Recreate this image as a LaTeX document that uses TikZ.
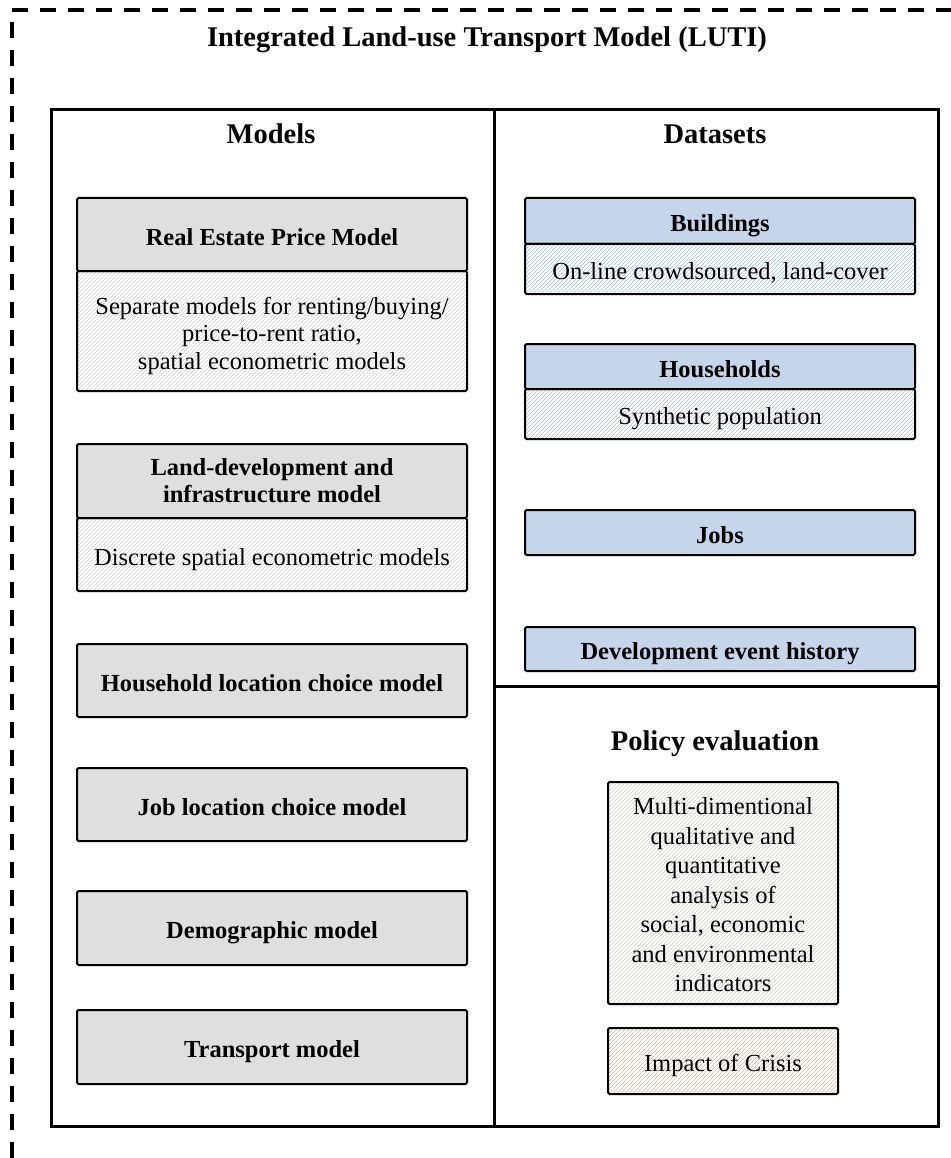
\documentclass[tikz,border=0pt]{standalone}
\usepackage{fontspec}
\setmainfont{Liberation Serif}
\definecolor{hdrgray}{HTML}{DFDFDF}
\definecolor{hdrblue}{HTML}{C5D6EA}
\definecolor{hgray}{HTML}{D0D0D0}
\definecolor{hblue}{HTML}{A8C2E4}
\definecolor{hgreen}{HTML}{C4DAA2}
\definecolor{horange}{HTML}{F7B283}
\tikzset{
  box/.style={draw=black, line width=2pt, rounded corners=1.5pt, inner sep=0pt, align=center,
    anchor=north west, font=\fontsize{24.5}{27.5}\selectfont},
  one/.style={text height=21pt, text depth=0pt},
  bhdr/.style={box, font=\bfseries\fontsize{24.5}{27}\selectfont},
  ghdr/.style={bhdr, fill=hdrgray},
  blhdr/.style={bhdr, fill=hdrblue},
  hatch/.style={box, path picture={
      \foreach \k in {0,4,...,640} {
        \draw[#1, line width=0.45pt]
          ([xshift=\k pt-240pt]path picture bounding box.south west) -- ++(240pt,240pt);
      }}},
  panel/.style={draw=black, line width=2.8pt, inner sep=0pt, anchor=north west},
  ptitle/.style={font=\bfseries\fontsize{28.5}{34}\selectfont, inner sep=0pt, anchor=base},
  outer/.style={draw=black, line width=3.5pt, dash pattern=on 16pt off 12pt}
}
\begin{document}
\begin{tikzpicture}[x=1pt,y=-1pt]
\useasboundingbox (0,0) rectangle (950,1158);
% outer dashed frame
\coordinate (otl) at (12,10);
\coordinate (otr) at (952,10);
\coordinate (oltop) at (12,22);
\coordinate (olbot) at (12,1160);
\draw[outer] (otl) -- (otr);
\draw[outer] (oltop) -- (olbot);
\node[ptitle] (title) at (487,47) {Integrated Land-use Transport Model (LUTI)};

% panels
\node[panel, minimum width=443pt, minimum height=1017pt] (pmodels) at (50,108) {};
\node[panel, minimum width=444pt, minimum height=577pt] (pdata) at (493,108) {};
\node[panel, minimum width=444pt, minimum height=440pt] (ppolicy) at (493,685) {};

\node[ptitle] (tmodels) at (271,144) {Models};
\node[ptitle] (tdata) at (715,144) {Datasets};
\node[ptitle] (tpolicy) at (715,750) {Policy evaluation};

% models
\node[ghdr, one, minimum width=390pt, minimum height=73pt] (re) at (76,197) {Real Estate Price Model};
\node[hatch=hgray, minimum width=390pt, minimum height=120pt] (reb) at (76,270)
  {\rule{0pt}{27pt}Separate models for renting/buying/\\price-to-rent ratio,\\spatial econometric models};
\node[ghdr, minimum width=390pt, minimum height=74pt] (ld) at (76,443) {Land-development and\\infrastructure model};
\node[hatch=hgray, one, minimum width=390pt, minimum height=73pt] (ldb) at (76,517) {Discrete spatial econometric models};
\node[ghdr, one, minimum width=390pt, minimum height=73pt] (hl) at (76,643) {Household location choice model};
\node[ghdr, one, minimum width=390pt, minimum height=73pt] (jl) at (76,767) {Job location choice model};
\node[ghdr, one, minimum width=390pt, minimum height=74pt] (dm) at (76,890) {Demographic model};
\node[ghdr, one, minimum width=390pt, minimum height=74pt] (tm) at (76,1009) {Transport model};

% datasets
\node[blhdr, one, minimum width=390pt, minimum height=46pt] (bu) at (524,197) {Buildings};
\node[hatch=hblue, one, minimum width=390pt, minimum height=50pt] (bub) at (524,243) {On-line crowdsourced, land-cover};
\node[blhdr, one, minimum width=390pt, minimum height=45pt] (hh) at (524,343) {Households};
\node[hatch=hblue, one, minimum width=390pt, minimum height=50pt] (hhb) at (524,388) {Synthetic population};
\node[blhdr, one, minimum width=390pt, minimum height=45pt] (jo) at (524,509) {Jobs};
\node[blhdr, one, minimum width=390pt, minimum height=44pt] (de) at (524,626) {Development event history};

% policy
\node[hatch=hgreen, minimum width=230pt, minimum height=222pt,
  font=\fontsize{24.5}{29.5}\selectfont] (md) at (607,781)
  {\rule{0pt}{21pt}Multi-dimentional\\qualitative and\\quantitative\\analysis of\\social, economic\\and environmental\\indicators};
\node[hatch=horange, one, minimum width=230pt, minimum height=66pt] (ic) at (607,1027) {Impact of Crisis};
\end{tikzpicture}
\end{document}
